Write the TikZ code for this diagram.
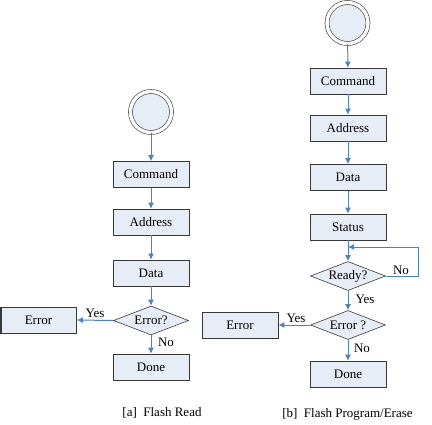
\documentclass[tikz,border=0pt]{standalone}
\usepackage{fontspec}
\setmainfont{Liberation Serif}
\usetikzlibrary{shapes.geometric,arrows.meta}
\definecolor{boxfill}{HTML}{E7EDF7}
\definecolor{boxline}{HTML}{383838}
\definecolor{arrowc}{HTML}{4F81BD}
\tikzset{
  stepbox/.style={draw=boxline, fill=boxfill, line width=0.6pt, minimum width=76pt, minimum height=26pt, inner sep=0pt,
    font=\fontsize{13}{15}\selectfont,
    path picture={\draw[boxline, line width=2.2pt] (path picture bounding box.north west) -- (path picture bounding box.south west);}},
  decision/.style={diamond, aspect=2.6, draw=boxline, fill=boxfill, line width=0.6pt, minimum width=75pt, minimum height=29pt, inner sep=0pt,
    font=\fontsize{13}{15}\selectfont},
  startnode/.style={circle, draw=boxline, fill=boxfill, line width=0.6pt, double=white, double distance=3.4pt, minimum size=41pt, inner sep=0pt},
  flow/.style={draw=arrowc, line width=1pt, -{Latex[length=6pt,width=6pt]}},
  lbl/.style={font=\fontsize{13}{15}\selectfont, inner sep=0pt},
  captext/.style={font=\fontsize{13}{15}\selectfont, inner sep=0pt}
}
\begin{document}
\begin{tikzpicture}[x=1pt,y=-1pt]
\useasboundingbox (0,0) rectangle (432,424);
% left column
\node[startnode] (startA) at (151,112) {};
\node[stepbox] (cmdA) at (151,174.5) {Command};
\node[stepbox] (addrA) at (151,222) {Address};
\node[stepbox] (dataA) at (151,273) {Data};
\node[decision] (errdA) at (151,320.5) {Error?};
\node[stepbox] (doneA) at (151,367) {Done};
\node[stepbox] (errA) at (38.5,320) {Error};
\draw[flow] (startA) -- (cmdA);
\draw[flow] (cmdA) -- (addrA);
\draw[flow] (addrA) -- (dataA);
\draw[flow] (dataA) -- (errdA);
\draw[flow] (errdA) -- (doneA);
\draw[flow] (errdA.west) -- (errA.east);
\node[lbl] (yesA) at (95,313) {Yes};
\node[lbl] (noA) at (166,342) {No};
% right column
\node[startnode] (startB) at (347.5,23) {};
\node[stepbox] (cmdB) at (348,81) {Command};
\node[stepbox] (addrB) at (348,128) {Address};
\node[stepbox] (dataB) at (348,177.5) {Data};
\node[stepbox] (statB) at (348,227) {Status};
\node[decision] (readyB) at (348,276) {Ready?};
\node[decision] (errdB) at (348,325) {Error ?};
\node[stepbox] (doneB) at (348,374) {Done};
\node[stepbox] (errB) at (240,325) {Error};
\coordinate (loopIn) at (348,247);
\draw[flow] (startB) -- (cmdB);
\draw[flow] (cmdB) -- (addrB);
\draw[flow] (addrB) -- (dataB);
\draw[flow] (dataB) -- (statB);
\draw[flow] (statB) -- (readyB);
\draw[flow] (readyB.east) -- (418,276) |- (loopIn);
\draw[flow] (readyB) -- (errdB);
\draw[flow] (errdB) -- (doneB);
\draw[flow] (errdB.west) -- (errB.east);
\node[lbl] (noB1) at (401,270) {No};
\node[lbl] (yesB1) at (365,299) {Yes};
\node[lbl] (yesB2) at (296,318) {Yes};
\node[lbl] (noB2) at (362,348) {No};
% captions
\node[captext] (capA) at (162,413) {[a]\ \ Flash Read};
\node[captext] (capB) at (347.5,414) {[b]\ \ Flash Program/Erase};
\end{tikzpicture}
\end{document}
